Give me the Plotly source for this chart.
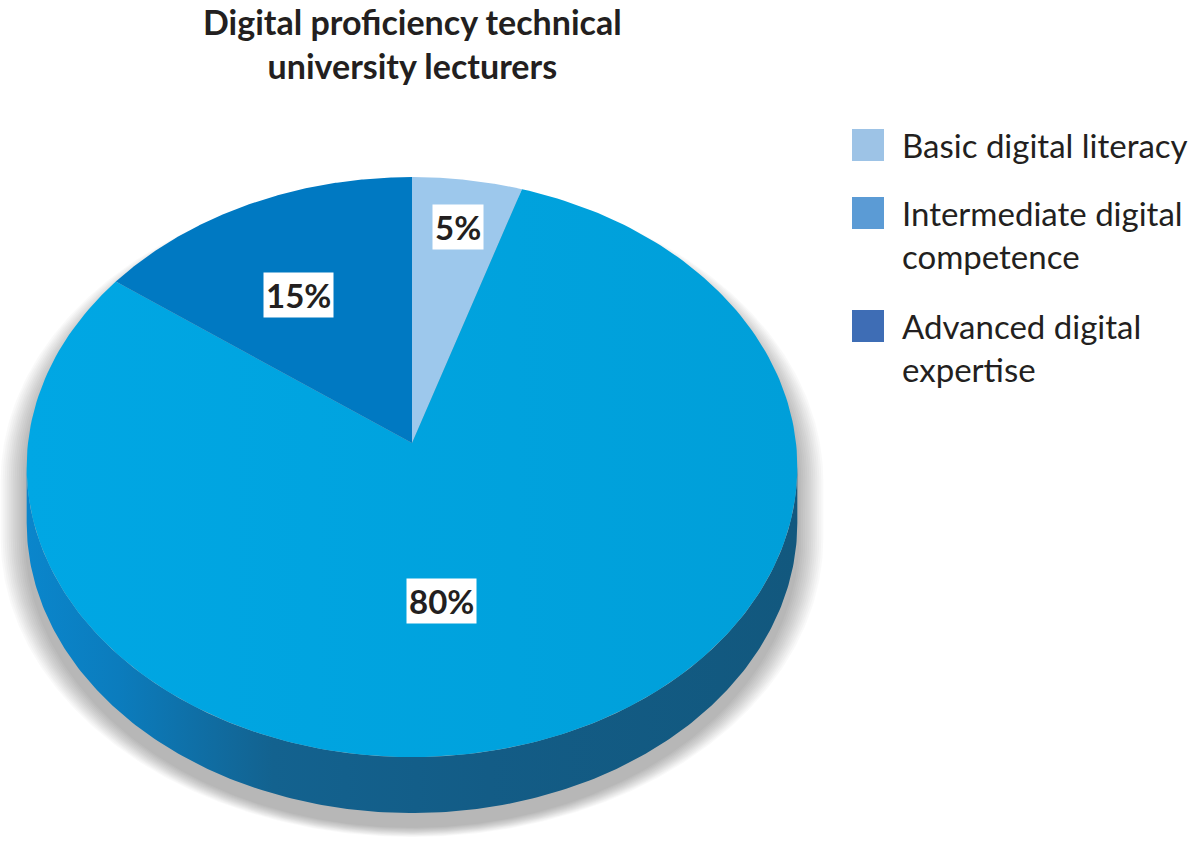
import numpy as np
import plotly.graph_objects as go

# ---------------- data ----------------
categories = ["Basic digital literacy", "Intermediate digital competence", "Advanced digital expertise"]
legend_labels = ["Basic digital literacy", "Intermediate digital<br>competence", "Advanced digital<br>expertise"]
values = [5, 80, 15]
slice_colors = ["#9DC8EC", "#00A4E0", "#0079C2"]
legend_colors = ["#9DC3E6", "#5B9BD5", "#3E6DB5"]
title_text = "Digital proficiency technical<br>university lecturers"

# ---------------- geometry (pixel-like axes, y down) ----------------
CX, CY = 412.0, 443.0      # pie vertex
A, B = 384.0, 288.0        # horizontal / vertical radii
K = 0.083                  # perspective factor
DEPTH = 56.0               # thickness of the pie side
N = 240

def proj(theta_deg, r=1.0, dy=0.0, a=A, b=B):
    t = np.radians(theta_deg)
    u = r * np.sin(t)
    v = r * np.cos(t)
    w = 1 + K * v
    return CX + a * u / w, CY - b * v / w + dy

fig = go.Figure()

th_left = 360 - np.degrees(np.arccos(-K))
th_right = np.degrees(np.arccos(-K))

def silhouette(a, b, dy):
    back = np.linspace(th_left, th_right + 360, N)
    front = np.linspace(th_right, th_left, N)
    xb, yb = proj(back, 1.0, dy, a, b)
    xf, yf = proj(front, 1.0, dy + DEPTH, a, b)
    return np.concatenate([xb, xf]), np.concatenate([yb, yf])

# soft drop shadow
for d in np.linspace(2, 26, 13):
    xs, ys = silhouette(A + d, B + d * 0.35, 14)
    fig.add_trace(go.Scatter(x=xs, y=ys, mode="lines", fill="toself",
                             line=dict(width=0), fillcolor="rgba(0,0,0,0.024)",
                             hoverinfo="skip", showlegend=False))

# slice angles
total = sum(values)
starts = np.cumsum([0] + values[:-1]) / total * 360
ends = np.cumsum(values) / total * 360

# side walls (only front part visible)
for s, e, c in zip(starts, ends, slice_colors):
    a0, a1 = max(s, th_right), min(e, th_left)
    if a1 <= a0:
        continue
    th = np.linspace(a0, a1, N)
    xt, yt = proj(th)
    xb, yb = proj(th[::-1], 1.0, DEPTH)
    fig.add_trace(go.Scatter(
        x=np.concatenate([xt, xb]), y=np.concatenate([yt, yb]),
        mode="lines", fill="toself", line=dict(width=0),
        fillgradient=dict(type="horizontal",
                          colorscale=[[0, "#0A86CC"], [0.12, "#0B7CBD"], [0.32, "#13628F"],
                                      [0.6, "#135C86"], [1, "#12587E"]]),
        hoverinfo="skip", showlegend=False))

# top face slices
for cat, val, s, e, c in zip(categories, values, starts, ends, slice_colors):
    th = np.linspace(s, e, N)
    xa, ya = proj(th)
    x0, y0 = proj(0, 0.0)
    kw = {}
    if val == max(values):
        kw["fillgradient"] = dict(type="horizontal",
                                  colorscale=[[0, "#00A7E4"], [1, "#009FD9"]])
    else:
        kw["fillcolor"] = c
    fig.add_trace(go.Scatter(
        x=np.concatenate([[x0], xa, [x0]]), y=np.concatenate([[y0], ya, [y0]]),
        mode="lines", fill="toself", line=dict(width=0), name=cat,
        hovertemplate=f"{cat}: {val}%<extra></extra>", showlegend=False, **kw))

# data labels
label_r = [0.81, 0.53, 0.62]
label_shift = [0, 10, -3]
for val, s, e, r, sh in zip(values, starts, ends, label_r, label_shift):
    lx, ly = proj((s + e) / 2 + sh, r)
    fig.add_annotation(x=float(lx), y=float(ly), text=f"{val}%", showarrow=False,
                       bgcolor="white", borderpad=2,
                       font=dict(family="Lato", size=33, color="#231F20", weight="bold"))

# legend
legend_y = [145, 213, 326]
for lab, col, yy in zip(legend_labels, legend_colors, legend_y):
    fig.add_shape(type="rect", xref="x", yref="y", x0=852, x1=884, y0=yy - 16, y1=yy + 16,
                  fillcolor=col, line=dict(width=0))
    fig.add_annotation(x=900, y=yy - 22, xanchor="left", yanchor="top", text=lab,
                       showarrow=False, align="left",
                       font=dict(family="Lato", size=33, color="#231F20"))

# title
fig.add_annotation(x=412, xref="x", y=1.0, yref="paper", xanchor="center", yanchor="top",
                   text=title_text, showarrow=False, align="center", borderpad=0,
                   font=dict(family="Lato", size=34, color="#231F20", weight="bold"))

fig.update_layout(
    width=1200, height=842, autosize=False,
    margin=dict(l=0, r=0, t=0, b=0),
    paper_bgcolor="white", plot_bgcolor="white",
    xaxis=dict(range=[0, 1200], visible=False, fixedrange=True),
    yaxis=dict(range=[842, 0], visible=False, fixedrange=True),
    showlegend=False,
)

fig.write_html("out.html", config={"displayModeBar": False},
               post_script="document.body.style.margin='0';")
